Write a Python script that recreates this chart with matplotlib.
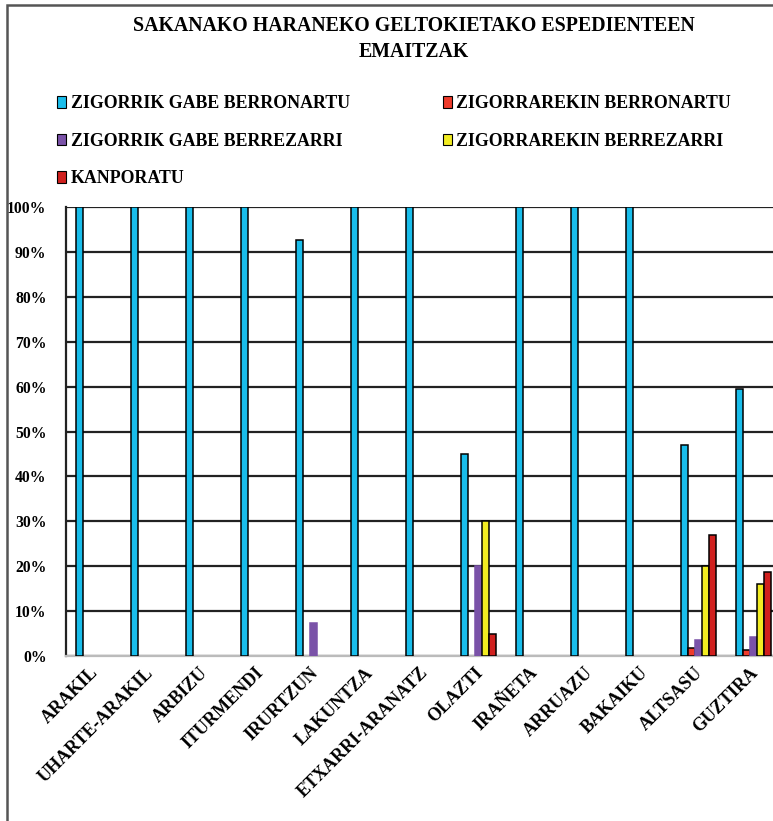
import matplotlib
matplotlib.use("Agg")
import matplotlib.pyplot as plt
import matplotlib.transforms as mtransforms
import numpy as np
from matplotlib.patches import Patch, Rectangle

plt.rcParams['font.family'] = ['Liberation Serif', 'DejaVu Serif']
plt.rcParams['font.weight'] = 'bold'

# Data (percent)
herriak = ['ARAKIL', 'UHARTE-ARAKIL', 'ARBIZU', 'ITURMENDI', 'IRURTZUN', 'LAKUNTZA',
           'ETXARRI-ARANATZ', 'OLAZTI', 'IRAÑETA', 'ARRUAZU', 'BAKAIKU', 'ALTSASU', 'GUZTIRA']
gabe_berronartu = [100, 100, 100, 100, 92.6, 100, 100, 45, 100, 100, 100, 47, 59.5]
zigor_berronartu = [0, 0, 0, 0, 0, 0, 0, 0, 0, 0, 0, 1.8, 1.3]
gabe_berrezarri = [0, 0, 0, 0, 7.4, 0, 0, 20, 0, 0, 0, 3.6, 4.2]
zigor_berrezarri = [0, 0, 0, 0, 0, 0, 0, 30, 0, 0, 0, 20, 16]
kanporatu = [0, 0, 0, 0, 0, 0, 0, 5, 0, 0, 0, 27, 18.6]

series = [
    ('ZIGORRIK GABE BERRONARTU', gabe_berronartu, '#19bdeb', 'black'),
    ('ZIGORRAREKIN BERRONARTU', zigor_berronartu, '#ee3b2b', 'black'),
    ('ZIGORRIK GABE BERREZARRI', gabe_berrezarri, '#7a52a8', '#7a52a8'),
    ('ZIGORRAREKIN BERREZARRI', zigor_berrezarri, '#f2ec22', 'black'),
    ('KANPORATU', kanporatu, '#d0201e', 'black'),
]

W, H = 773, 821
fig = plt.figure(figsize=(W / 100, H / 100), dpi=100)

# outer frame (cropped on right/bottom like the original)
fig.patches.append(Rectangle((7 / W, -0.05), 1.2, 1 - 5 / H + 0.05,
                             transform=fig.transFigure, fill=False,
                             edgecolor='#555555', linewidth=1.8))

ax = fig.add_axes([66 / W, 1 - 656 / H, 715 / W, 449 / H])

x = np.arange(len(herriak))
w = 7 / 55
handles = []
for k, (name, vals, col, ec) in enumerate(series):
    v = np.array(vals) / 100
    pos = x + (k - 2) * w
    mask = v > 0
    ax.bar(pos[mask], v[mask], width=w, color=col, edgecolor=ec, linewidth=1.1, zorder=3)
    handles.append(Patch(facecolor=col, edgecolor='black', linewidth=0.8, label=name))

ax.set_xlim(-0.5, len(herriak) - 0.5)
ax.set_ylim(0, 1)
ax.set_yticks(np.arange(0, 1.01, 0.1))
ax.set_yticklabels([f'{int(round(t * 100))}%' for t in np.arange(0, 1.01, 0.1)],
                   fontsize=11.3, fontweight='bold')
ax.set_xticks(x)
ax.set_xticklabels(herriak, rotation=45, ha='right', fontsize=13, fontweight='bold')
ax.tick_params(axis='both', length=0)
ax.tick_params(axis='x', pad=6)
ax.tick_params(axis='y', pad=14)
shift = mtransforms.ScaledTranslation(8 / 100, 0, fig.dpi_scale_trans)
for lbl in ax.get_xticklabels():
    lbl.set_transform(lbl.get_transform() + shift)

ax.yaxis.grid(True, color='#222222', linewidth=1.6, zorder=1)
ax.set_axisbelow(True)
for s in ['top', 'right']:
    ax.spines[s].set_visible(False)
ax.spines['left'].set_color('#222222')
ax.spines['left'].set_linewidth(1.6)
ax.spines['bottom'].set_color('#bbbbbb')
ax.spines['bottom'].set_linewidth(1.6)

fig.text(414 / W, 1 - 39 / H, 'SAKANAKO HARANEKO GELTOKIETAKO ESPEDIENTEEN\nEMAITZAK',
         ha='center', va='center', fontsize=14.3, fontweight='bold', linespacing=1.4)

order = [0, 2, 4, 1, 3]
fig.legend([handles[i] for i in order], [handles[i].get_label() for i in order],
           loc='upper left', bbox_to_anchor=(50 / W, 1 - 88 / H), ncol=2,
           frameon=False, prop={'size': 12.9, 'weight': 'bold'},
           handlelength=0.5, handleheight=0.6, handletextpad=0.25,
           labelspacing=1.15, columnspacing=5.2, borderaxespad=0)

fig.savefig('out.png', dpi=100)
